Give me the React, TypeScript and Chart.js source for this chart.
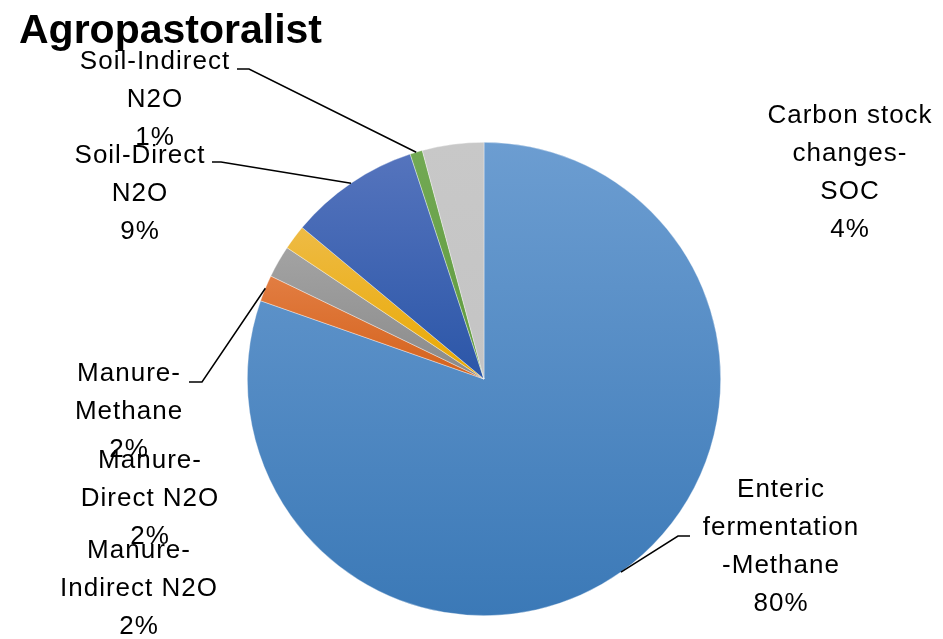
import React, { useEffect, useRef } from "react";
import { Chart, registerables } from "chart.js";

Chart.register(...registerables);

const TITLE = "Agropastoralist";
const CATEGORIES = [
  "Enteric fermentation-Methane",
  "Manure-Methane",
  "Manure-Direct N2O",
  "Manure-Indirect N2O",
  "Soil-Direct N2O",
  "Soil-Indirect N2O",
  "Carbon stock changes-SOC",
];
const VALUES = [80.4, 1.8, 2.2, 1.7, 8.9, 0.85, 4.2];
// label text lines (category name broken as in the original)
const LABEL_LINES = [
  ["Enteric", "fermentation", "-Methane"],
  ["Manure-", "Methane"],
  ["Manure-", "Direct N2O"],
  ["Manure-", "Indirect N2O"],
  ["Soil-Direct", "N2O"],
  ["Soil-Indirect", "N2O"],
  ["Carbon stock", "changes-", "SOC"],
];
const TOP_COLORS = ["#6c9dd1", "#e27d42", "#a3a3a3", "#eebb45", "#5574bd", "#72a954", "#c8c8c8"];
const BOTTOM_COLORS = ["#3b79b7", "#d4621c", "#8a8a8a", "#e9a800", "#2b56a8", "#5f9a3d", "#c4c4c4"];

// label layout: center x, first-line y, optional leader (elbow x, elbow y, end x)
const LABEL_LAYOUT = [
  { x: 781, y: 490, leader: [678, 536, 690] },
  { x: 129, y: 374, leader: [202, 382, 189] },
  { x: 150, y: 461, leader: null },
  { x: 139, y: 551, leader: null },
  { x: 140, y: 156, leader: [221, 162, 212] },
  { x: 155, y: 62, leader: [249, 69, 237] },
  { x: 850, y: 116, leader: null },
];

const FONT = '"Liberation Sans", Arial, sans-serif';

function sliceAngles() {
  const total = VALUES.reduce((a, b) => a + b, 0);
  let acc = 0;
  return VALUES.map((v) => {
    const s = -Math.PI / 2 + (acc / total) * Math.PI * 2;
    acc += v;
    const e = -Math.PI / 2 + (acc / total) * Math.PI * 2;
    return [s, e];
  });
}

const labelsPlugin = {
  id: "excelLabels",
  afterDraw(chart: any) {
    const ctx = chart.ctx;
    const meta = chart.getDatasetMeta(0);
    const total = VALUES.reduce((a, b) => a + b, 0);
    ctx.save();
    // title
    ctx.fillStyle = "#000";
    ctx.font = `bold 41px ${FONT}`;
    ctx.textAlign = "left";
    ctx.textBaseline = "alphabetic";
    ctx.fillText(TITLE, 19, 43);

    ctx.font = `26px ${FONT}`;
    (ctx as any).letterSpacing = "1px";
    ctx.textAlign = "center";
    ctx.textBaseline = "middle";
    const lineH = 38;
    VALUES.forEach((v, i) => {
      const lay = LABEL_LAYOUT[i];
      const arc = meta.data[i];
      if (lay.leader && arc) {
        const mid = (arc.startAngle + arc.endAngle) / 2;
        const px = arc.x + Math.cos(mid) * arc.outerRadius;
        const py = arc.y + Math.sin(mid) * arc.outerRadius;
        ctx.strokeStyle = "#000";
        ctx.lineWidth = 1.5;
        ctx.beginPath();
        ctx.moveTo(px, py);
        ctx.lineTo(lay.leader[0], lay.leader[1]);
        ctx.lineTo(lay.leader[2], lay.leader[1]);
        ctx.stroke();
      }
      const pct = Math.round((v / total) * 100) + "%";
      const lines = [...LABEL_LINES[i], pct];
      lines.forEach((t, k) => {
        ctx.fillText(t, lay.x, lay.y + k * lineH);
      });
    });
    ctx.restore();
  },
};

export default function App() {
  const ref = useRef<HTMLCanvasElement>(null);
  useEffect(() => {
    if (!ref.current) return;
    const angles = sliceAngles();
    const chart = new Chart(ref.current, {
      type: "pie",
      data: {
        labels: CATEGORIES,
        datasets: [
          {
            data: VALUES,
            borderColor: "rgba(255,255,255,0.6)",
            borderWidth: 0.6,
            backgroundColor: (c: any) => {
              const i = c.dataIndex;
              const area = c.chart.chartArea;
              if (!area || i === undefined) return TOP_COLORS[i ?? 0];
              const cx = (area.left + area.right) / 2;
              const cy = (area.top + area.bottom) / 2;
              const r = Math.min(area.right - area.left, area.bottom - area.top) / 2;
              const [s, e] = angles[i];
              let ymin = cy, ymax = cy;
              for (let k = 0; k <= 40; k++) {
                const a = s + ((e - s) * k) / 40;
                const y = cy + Math.sin(a) * r;
                ymin = Math.min(ymin, y);
                ymax = Math.max(ymax, y);
              }
              if (ymax - ymin < 1) ymax = ymin + 1;
              const g = c.chart.ctx.createLinearGradient(0, ymin, 0, ymax);
              g.addColorStop(0, TOP_COLORS[i]);
              g.addColorStop(1, BOTTOM_COLORS[i]);
              return g;
            },
          },
        ],
      },
      options: {
        animation: false,
        responsive: true,
        maintainAspectRatio: false,
        layout: { padding: { left: 247, right: 222, top: 142, bottom: 23 } },
        plugins: {
          legend: { display: false },
          title: { display: false },
          tooltip: { enabled: false },
        },
      },
      plugins: [labelsPlugin],
    });
    return () => chart.destroy();
  }, []);
  return (
    <div style={{ position: "absolute", left: 0, top: 0, width: 943, height: 639, background: "#fff" }}>
      <canvas ref={ref} />
    </div>
  );
}
